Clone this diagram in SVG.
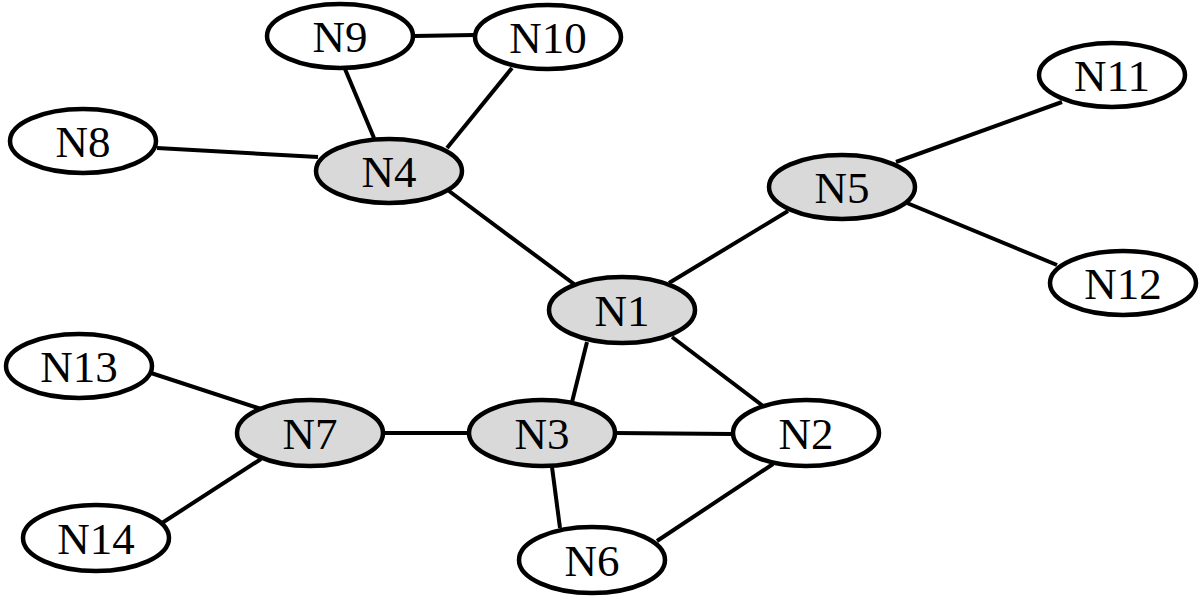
<svg xmlns="http://www.w3.org/2000/svg" width="1200" height="602" viewBox="0 0 1200 602">
<style>
.edge{stroke:#000;stroke-width:4;fill:none;stroke-linecap:butt}
.n ellipse{stroke:#000;stroke-width:4.5;fill:#fff}
.g ellipse{fill:#d9d9d9}
.n text{font-family:"Liberation Serif","Times New Roman",serif;font-size:45px;text-anchor:middle;fill:#000}
</style>
<rect width="1200" height="602" fill="#fff"/>
<g id="connectors">
<line class="edge" x1="414" y1="36" x2="474" y2="35"/>
<line class="edge" x1="345" y1="69" x2="374" y2="138"/>
<line class="edge" x1="512" y1="68" x2="447" y2="148"/>
<line class="edge" x1="157" y1="148" x2="318" y2="157"/>
<line class="edge" x1="449" y1="191" x2="574" y2="284"/>
<line class="edge" x1="669" y1="283" x2="788" y2="211"/>
<line class="edge" x1="896" y1="162" x2="1062" y2="102"/>
<line class="edge" x1="907" y1="203" x2="1057" y2="265"/>
<line class="edge" x1="587" y1="342" x2="572" y2="402"/>
<line class="edge" x1="672" y1="337" x2="763" y2="406"/>
<line class="edge" x1="615" y1="433" x2="732" y2="434"/>
<line class="edge" x1="552" y1="467" x2="560" y2="528"/>
<line class="edge" x1="773" y1="464" x2="657" y2="541"/>
<line class="edge" x1="384" y1="433" x2="468" y2="433"/>
<line class="edge" x1="151" y1="373" x2="261" y2="409"/>
<line class="edge" x1="261" y1="459" x2="162" y2="523"/>
</g>
<g id="N9" class="n"><ellipse cx="340" cy="36" rx="73" ry="32"/><text x="340" y="52">N9</text></g>
<g id="N10" class="n"><ellipse cx="548" cy="37" rx="73" ry="32"/><text x="548" y="53">N10</text></g>
<g id="N8" class="n"><ellipse cx="83" cy="141" rx="73" ry="32"/><text x="83" y="157">N8</text></g>
<g id="N4" class="n g"><ellipse cx="389" cy="171" rx="73" ry="32"/><text x="389" y="187">N4</text></g>
<g id="N11" class="n"><ellipse cx="1112" cy="75" rx="73" ry="32"/><text x="1112" y="91">N11</text></g>
<g id="N5" class="n g"><ellipse cx="842" cy="187" rx="73" ry="32"/><text x="842" y="203">N5</text></g>
<g id="N12" class="n"><ellipse cx="1123" cy="283" rx="73" ry="32"/><text x="1123" y="299">N12</text></g>
<g id="N1" class="n g"><ellipse cx="622" cy="310" rx="73" ry="33"/><text x="622" y="326">N1</text></g>
<g id="N13" class="n"><ellipse cx="79" cy="366" rx="73" ry="32"/><text x="79" y="382">N13</text></g>
<g id="N7" class="n g"><ellipse cx="310" cy="433" rx="73" ry="33"/><text x="310" y="449">N7</text></g>
<g id="N3" class="n g"><ellipse cx="542" cy="433" rx="73" ry="33"/><text x="542" y="449">N3</text></g>
<g id="N2" class="n"><ellipse cx="806" cy="433" rx="73" ry="33"/><text x="806" y="449">N2</text></g>
<g id="N14" class="n"><ellipse cx="96" cy="538" rx="73" ry="33"/><text x="96" y="554">N14</text></g>
<g id="N6" class="n"><ellipse cx="592" cy="560" rx="73" ry="33"/><text x="592" y="576">N6</text></g>
</svg>
